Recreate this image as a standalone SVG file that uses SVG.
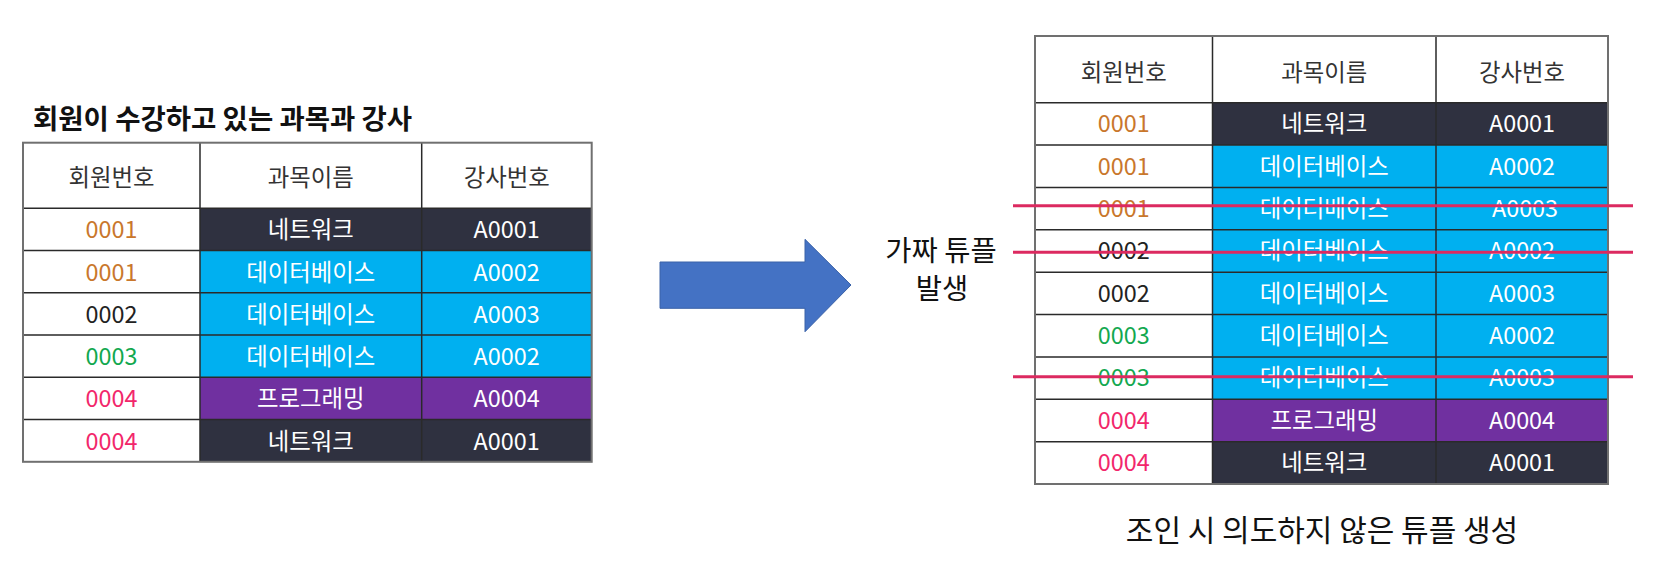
<svg xmlns="http://www.w3.org/2000/svg" width="1659" height="571" viewBox="0 0 1659 571">
<style>
  text { font-family: "Noto Sans CJK KR", "Noto Sans", sans-serif; }
  .c { font-size: 23.4px; text-anchor: middle; font-weight: 400; }
  .h { fill: #333333; }
  .w { fill: #ffffff; }
  .or { fill: #c9772c; }
  .bk { fill: #222222; }
  .gr { fill: #12a84f; }
  .pk { fill: #f2276b; }
  .cw { fill: #ffffff; }
  .cd { fill: #2f3140; }
  .cc { fill: #00b0f0; }
  .cp { fill: #7030a0; }
  .grid { stroke: #2a2a2a; stroke-width: 1.5; fill: none; }
  .outer { stroke: #707070; stroke-width: 2; fill: none; }
  .strike { stroke: #dc2a60; stroke-width: 3; }
  .lbl { font-size: 28.5px; fill: #111111; text-anchor: middle; font-weight: 400; }
</style>

<g id="title-left">
  <text x="33" y="129" font-size="27.5" font-weight="700" fill="#111111">회원이 수강하고 있는 과목과 강사</text>
</g>

<g id="table-left">
  <rect x="23" y="142.7" width="568.7" height="65.6" class="cw"/>
  <g id="tl-r1">
    <rect x="23" y="208.3" width="177" height="42.25" class="cw"/>
    <rect x="200" y="208.3" width="391.7" height="42.25" class="cd"/>
  </g>
  <g id="tl-r2">
    <rect x="23" y="250.55" width="177" height="42.25" class="cw"/>
    <rect x="200" y="250.55" width="391.7" height="42.25" class="cc"/>
  </g>
  <g id="tl-r3">
    <rect x="23" y="292.8" width="177" height="42.25" class="cw"/>
    <rect x="200" y="292.8" width="391.7" height="42.25" class="cc"/>
  </g>
  <g id="tl-r4">
    <rect x="23" y="335.05" width="177" height="42.25" class="cw"/>
    <rect x="200" y="335.05" width="391.7" height="42.25" class="cc"/>
  </g>
  <g id="tl-r5">
    <rect x="23" y="377.3" width="177" height="42.25" class="cw"/>
    <rect x="200" y="377.3" width="391.7" height="42.25" class="cp"/>
  </g>
  <g id="tl-r6">
    <rect x="23" y="419.55" width="177" height="42.25" class="cw"/>
    <rect x="200" y="419.55" width="391.7" height="42.25" class="cd"/>
  </g>
  <path class="grid" d="M23 208.3H591.7M23 250.55H591.7M23 292.8H591.7M23 335.05H591.7M23 377.3H591.7M23 419.55H591.7M200 142.7V461.8M421.7 142.7V461.8"/>
  <rect class="outer" x="23" y="142.7" width="568.7" height="319.1"/>

  <text class="c h" x="111.5" y="186">회원번호</text>
  <text class="c h" x="310.8" y="186">과목이름</text>
  <text class="c h" x="506.7" y="186">강사번호</text>

  <text class="c or" x="111.5" y="238.3">0001</text>
  <text class="c w" x="310.8" y="238.3">네트워크</text>
  <text class="c w" x="506.7" y="238.3">A0001</text>

  <text class="c or" x="111.5" y="280.55">0001</text>
  <text class="c w" x="310.8" y="280.55">데이터베이스</text>
  <text class="c w" x="506.7" y="280.55">A0002</text>

  <text class="c bk" x="111.5" y="322.8">0002</text>
  <text class="c w" x="310.8" y="322.8">데이터베이스</text>
  <text class="c w" x="506.7" y="322.8">A0003</text>

  <text class="c gr" x="111.5" y="365.05">0003</text>
  <text class="c w" x="310.8" y="365.05">데이터베이스</text>
  <text class="c w" x="506.7" y="365.05">A0002</text>

  <text class="c pk" x="111.5" y="407.3">0004</text>
  <text class="c w" x="310.8" y="407.3">프로그래밍</text>
  <text class="c w" x="506.7" y="407.3">A0004</text>

  <text class="c pk" x="111.5" y="449.55">0004</text>
  <text class="c w" x="310.8" y="449.55">네트워크</text>
  <text class="c w" x="506.7" y="449.55">A0001</text>
</g>

<g id="connectors">
  <path d="M660 262 H805 V239.3 L851 285 L805 331.7 V308.3 H660 Z" fill="#4472c4" stroke="#3a62a8" stroke-width="1"/>
</g>

<g id="label-fake">
  <text class="lbl" x="941" y="261">가짜 튜플</text>
  <text class="lbl" x="942" y="298.5">발생</text>
</g>

<g id="table-right">
  <rect x="1035" y="36" width="573" height="66.7" class="cw"/>
  <g id="tr-r1"><rect x="1035" y="102.7" width="177.5" height="42.37" class="cw"/><rect x="1212.5" y="102.7" width="395.5" height="42.37" class="cd"/></g>
  <g id="tr-r2"><rect x="1035" y="145.07" width="177.5" height="42.37" class="cw"/><rect x="1212.5" y="145.07" width="395.5" height="42.37" class="cc"/></g>
  <g id="tr-r3"><rect x="1035" y="187.44" width="177.5" height="42.37" class="cw"/><rect x="1212.5" y="187.44" width="395.5" height="42.37" class="cc"/></g>
  <g id="tr-r4"><rect x="1035" y="229.81" width="177.5" height="42.37" class="cw"/><rect x="1212.5" y="229.81" width="395.5" height="42.37" class="cc"/></g>
  <g id="tr-r5"><rect x="1035" y="272.18" width="177.5" height="42.37" class="cw"/><rect x="1212.5" y="272.18" width="395.5" height="42.37" class="cc"/></g>
  <g id="tr-r6"><rect x="1035" y="314.55" width="177.5" height="42.37" class="cw"/><rect x="1212.5" y="314.55" width="395.5" height="42.37" class="cc"/></g>
  <g id="tr-r7"><rect x="1035" y="356.92" width="177.5" height="42.37" class="cw"/><rect x="1212.5" y="356.92" width="395.5" height="42.37" class="cc"/></g>
  <g id="tr-r8"><rect x="1035" y="399.29" width="177.5" height="42.37" class="cw"/><rect x="1212.5" y="399.29" width="395.5" height="42.37" class="cp"/></g>
  <g id="tr-r9"><rect x="1035" y="441.66" width="177.5" height="42.37" class="cw"/><rect x="1212.5" y="441.66" width="395.5" height="42.37" class="cd"/></g>
  <path class="grid" d="M1035 102.7H1608M1035 145.07H1608M1035 187.44H1608M1035 229.81H1608M1035 272.18H1608M1035 314.55H1608M1035 356.92H1608M1035 399.29H1608M1035 441.66H1608M1212.5 36V484M1436 36V484"/>
  <rect class="outer" x="1035" y="36" width="573" height="448"/>

  <text class="c h" x="1123.8" y="80.5">회원번호</text>
  <text class="c h" x="1324.3" y="80.5">과목이름</text>
  <text class="c h" x="1522" y="80.5">강사번호</text>

  <text class="c or" x="1123.8" y="132.2">0001</text>
  <text class="c w" x="1324.3" y="132.2">네트워크</text>
  <text class="c w" x="1522" y="132.2">A0001</text>

  <text class="c or" x="1123.8" y="174.57">0001</text>
  <text class="c w" x="1324.3" y="174.57">데이터베이스</text>
  <text class="c w" x="1522" y="174.57">A0002</text>

  <text class="c or" x="1123.8" y="216.94">0001</text>
  <text class="c w" x="1324.3" y="216.94">데이터베이스</text>
  <text class="c w" x="1525" y="216.94">A0003</text>

  <text class="c bk" x="1123.8" y="259.31">0002</text>
  <text class="c w" x="1324.3" y="259.31">데이터베이스</text>
  <text class="c w" x="1522" y="259.31">A0002</text>

  <text class="c bk" x="1123.8" y="301.68">0002</text>
  <text class="c w" x="1324.3" y="301.68">데이터베이스</text>
  <text class="c w" x="1522" y="301.68">A0003</text>

  <text class="c gr" x="1123.8" y="344.05">0003</text>
  <text class="c w" x="1324.3" y="344.05">데이터베이스</text>
  <text class="c w" x="1522" y="344.05">A0002</text>

  <text class="c gr" x="1123.8" y="386.42">0003</text>
  <text class="c w" x="1324.3" y="386.42">데이터베이스</text>
  <text class="c w" x="1522" y="386.42">A0003</text>

  <text class="c pk" x="1123.8" y="428.79">0004</text>
  <text class="c w" x="1324.3" y="428.79">프로그래밍</text>
  <text class="c w" x="1522" y="428.79">A0004</text>

  <text class="c pk" x="1123.8" y="471.16">0004</text>
  <text class="c w" x="1324.3" y="471.16">네트워크</text>
  <text class="c w" x="1522" y="471.16">A0001</text>
</g>

<g id="strikes">
  <line class="strike" x1="1013" y1="205.7" x2="1633" y2="205.7"/>
  <line class="strike" x1="1013" y1="252.3" x2="1633" y2="252.3"/>
  <line class="strike" x1="1013" y1="376.7" x2="1633" y2="376.7"/>
</g>

<g id="caption">
  <text x="1322" y="541" font-size="30" fill="#111111" text-anchor="middle" font-weight="400">조인 시 의도하지 않은 튜플 생성</text>
</g>
</svg>
